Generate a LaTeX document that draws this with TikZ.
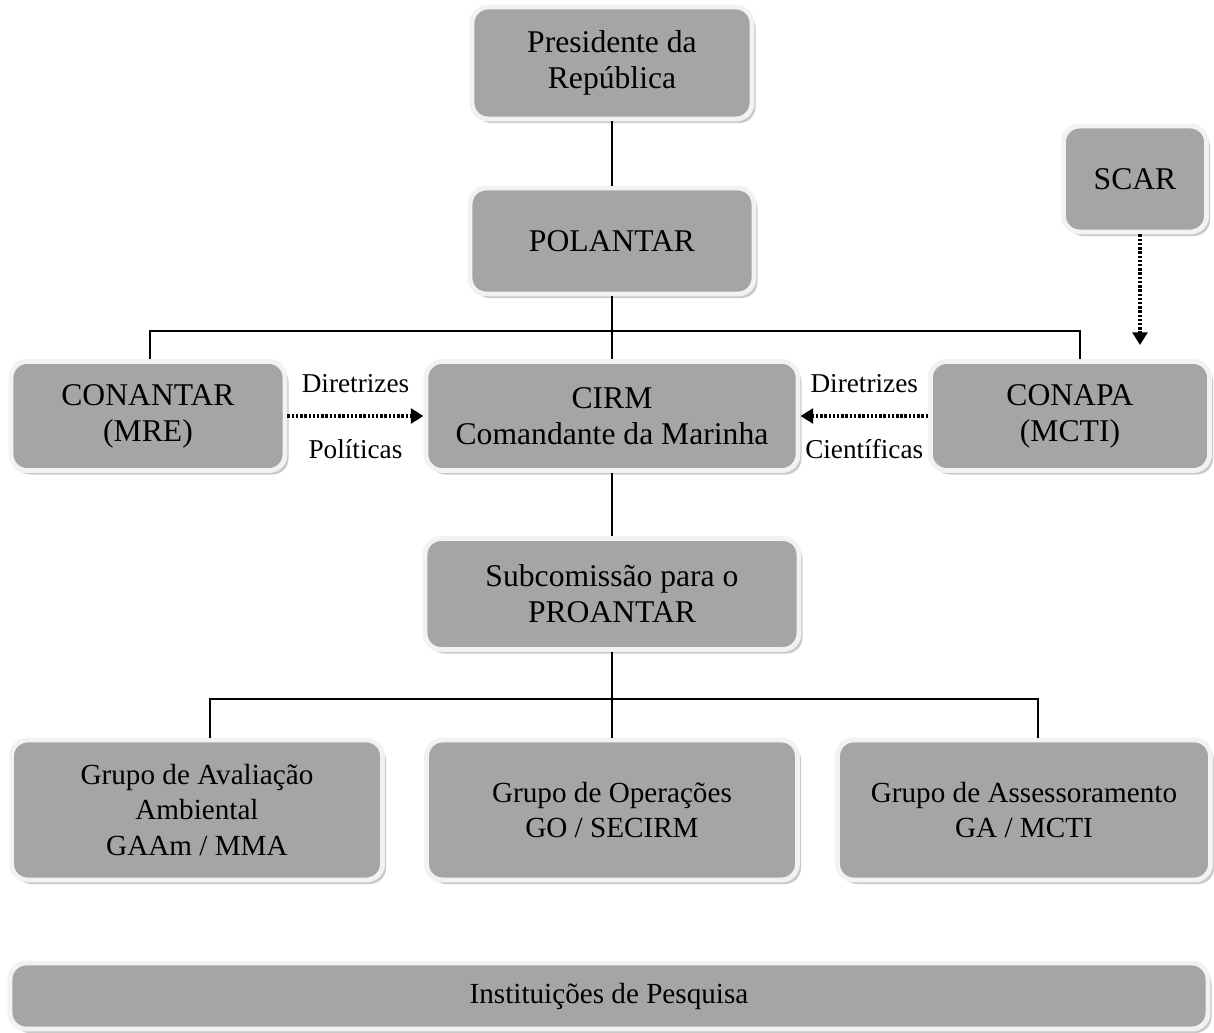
\documentclass[tikz,border=0pt]{standalone}
\usepackage{fontspec}
\setmainfont{Liberation Serif}
\usepackage{xcolor}
\usepackage{tikz}
\usetikzlibrary{shadows, arrows.meta}

\definecolor{boxfill}{HTML}{A5A5A5}
\definecolor{boxedge}{HTML}{F2F2F2}

\tikzset{
    orgbox/.style={rectangle, rounded corners=0.16cm, fill=boxfill, draw=boxedge,
        line width=1.4pt, inner sep=0pt, align=center,
        drop shadow={shadow xshift=0.035cm, shadow yshift=-0.04cm, fill=gray!85},
        font=\fontsize{9}{10.2}\selectfont},
    grpbox/.style={orgbox, font=\fontsize{8.3}{10}\selectfont},
    conn/.style={line width=0.6pt},
    hint/.style={line width=1.1pt, dash pattern=on 0.7pt off 0.5pt,
        -{Triangle[length=3.6pt,width=4.2pt]}},
    hintlbl/.style={font=\fontsize{7.75}{9}\selectfont}
}

\begin{document}
\begin{tikzpicture}
    \useasboundingbox (0,0) rectangle (12.14,-10.33);

    \node[orgbox, minimum width=2.80cm, minimum height=1.12cm] (pres) at (6.12,-0.63) {Presidente da\\Rep\'ublica};
    \node[orgbox, minimum width=2.84cm, minimum height=1.06cm] (polantar) at (6.12,-2.41) {POLANTAR};
    \node[orgbox, minimum width=1.43cm, minimum height=1.06cm] (scar) at (11.35,-1.79) {SCAR};

    \node[orgbox, minimum width=2.74cm, minimum height=1.09cm] (conantar) at (1.48,-4.16) {CONANTAR\\(MRE)};
    \node[orgbox, minimum width=3.72cm, minimum height=1.09cm] (cirm) at (6.12,-4.16) {CIRM\\Comandante da Marinha};
    \node[orgbox, minimum width=2.79cm, minimum height=1.09cm] (conapa) at (10.70,-4.16) {CONAPA\\(MCTI)};

    \node[orgbox, minimum width=3.74cm, minimum height=1.11cm] (subcom) at (6.12,-5.94) {Subcomiss\~ao para o\\PROANTAR};

    \node[grpbox, minimum width=3.71cm, minimum height=1.40cm] (grpav) at (1.97,-8.10) {Grupo de Avalia\c{c}\~ao\\Ambiental\\GAAm / MMA};
    \node[grpbox, minimum width=3.71cm, minimum height=1.40cm] (grpop) at (6.12,-8.10) {Grupo de Opera\c{c}\~oes\\GO / SECIRM};
    \node[grpbox, minimum width=3.73cm, minimum height=1.40cm] (grpas) at (10.24,-8.10) {Grupo de Assessoramento\\GA / MCTI};

    \node[grpbox, minimum width=11.98cm, minimum height=0.66cm] (inst) at (6.09,-9.96) {Institui\c{c}\~oes de Pesquisa};

    \coordinate (busAL) at (1.50,-3.31);
    \coordinate (busAR) at (10.80,-3.31);
    \coordinate (busBL) at (2.10,-6.99);
    \coordinate (busBR) at (10.38,-6.99);

    \draw[conn] (pres) -- (polantar);
    \draw[conn] (polantar) -- (cirm);
    \draw[conn] (busAL |- conantar.north) -- (busAL) -- (busAR) -- (busAR |- conapa.north);

    \draw[conn] (cirm) -- (subcom);
    \draw[conn] (subcom) -- (grpop);
    \draw[conn] (busBL |- grpav.north) -- (busBL) -- (busBR) -- (busBR |- grpas.north);

    \draw[hint] (conantar) -- (cirm)
        node[hintlbl, midway, above=0.1cm] (dirpol) {Diretrizes}
        node[hintlbl, midway, below=0.1cm] (pol) {Pol\'iticas};
    \draw[hint] (conapa) -- (cirm)
        node[hintlbl, midway, above=0.1cm] (dircie) {Diretrizes}
        node[hintlbl, midway, below=0.1cm] (cie) {Cient\'ificas};
    \draw[hint, shorten >=0.14cm] ([xshift=0.05cm]scar.south) -- ([xshift=0.05cm]scar.south |- conapa.north);
\end{tikzpicture}
\end{document}
